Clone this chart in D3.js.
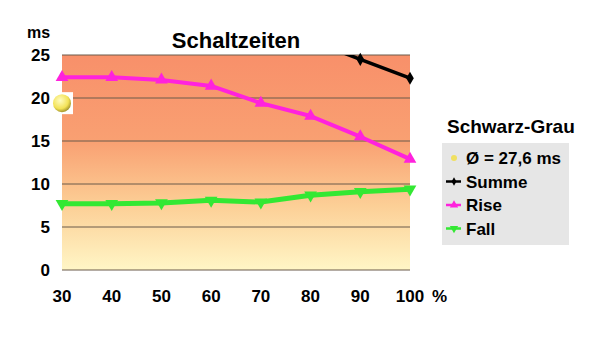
<!DOCTYPE html>
<html>
<head>
<meta charset="utf-8">
<script src="https://cdn.jsdelivr.net/npm/d3@7"></script>
<style>
body { margin: 0; background: #fff; }
text { font-family: "Liberation Sans", Arial, sans-serif; font-weight: bold; fill: #000; }
</style>
</head>
<body>
<svg id="chart" width="600" height="352"></svg>
<script>
var categories = [30, 40, 50, 60, 70, 80, 90, 100];
var yTicks = [0, 5, 10, 15, 20, 25];
var summe = [30.1, 30.1, 29.9, 29.5, 27.3, 26.7, 24.5, 22.3];
var rise = [22.4, 22.4, 22.1, 21.4, 19.4, 17.9, 15.5, 12.9];
var fall = [7.7, 7.7, 7.8, 8.1, 7.9, 8.7, 9.1, 9.4];
var avgPoint = {x: 30, y: 19.4};

var svg = d3.select("#chart");
var pLeft = 62, pRight = 410, pTop = 55, pBottom = 270;

var x = d3.scaleLinear().domain([30, 100]).range([pLeft, pRight]);
var y = d3.scaleLinear().domain([0, 25]).range([pBottom, pTop]);

// background gradient
var defs = svg.append("defs");
var grad = defs.append("linearGradient")
    .attr("id", "bg").attr("x1", 0).attr("y1", 0).attr("x2", 0).attr("y2", 1);
grad.append("stop").attr("offset", "0%").attr("stop-color", "#f8906a");
grad.append("stop").attr("offset", "40%").attr("stop-color", "#f9a072");
grad.append("stop").attr("offset", "70%").attr("stop-color", "#fccf96");
grad.append("stop").attr("offset", "100%").attr("stop-color", "#fff6c6");

defs.append("clipPath").attr("id", "plotclip")
    .append("rect").attr("x", pLeft).attr("y", pTop).attr("width", pRight - pLeft).attr("height", pBottom - pTop);

svg.append("rect")
    .attr("x", pLeft).attr("y", pTop)
    .attr("width", pRight - pLeft).attr("height", pBottom - pTop)
    .attr("fill", "url(#bg)");

// grid lines
svg.selectAll(".grid")
    .data(yTicks)
    .enter().append("line")
    .attr("class", "grid")
    .attr("x1", pLeft).attr("x2", pRight)
    .attr("y1", function(d) { return y(d); })
    .attr("y2", function(d) { return y(d); })
    .attr("stroke", "#6b5a4a")
    .attr("stroke-width", 1);

// y labels
svg.selectAll(".ylab")
    .data(yTicks)
    .enter().append("text")
    .attr("class", "ylab")
    .attr("x", 50)
    .attr("y", function(d) { return y(d) + 6; })
    .attr("text-anchor", "end")
    .attr("font-size", "17px")
    .text(function(d) { return d; });

svg.append("text").attr("x", 27).attr("y", 38).attr("font-size", "16px").text("ms");

// x labels
svg.selectAll(".xlab")
    .data(categories)
    .enter().append("text")
    .attr("class", "xlab")
    .attr("x", function(d) { return x(d); })
    .attr("y", 302)
    .attr("text-anchor", "middle")
    .attr("font-size", "17px")
    .text(function(d) { return d; });
svg.append("text").attr("x", 432).attr("y", 302).attr("font-size", "17px").text("%");

svg.append("text").attr("x", 236).attr("y", 48)
    .attr("text-anchor", "middle").attr("font-size", "22px").text("Schaltzeiten");

var line = d3.line()
    .x(function(d, i) { return x(categories[i]); })
    .y(function(d) { return y(d); });

var plot = svg.append("g").attr("clip-path", "url(#plotclip)");

var triSym = d3.symbol().type(d3.symbolTriangle).size(70);
var diamond = d3.symbol().type(d3.symbolDiamond).size(50);

function drawSeries(data, color, width, sym, rot) {
    plot.append("path")
        .datum(data)
        .attr("d", line)
        .attr("fill", "none")
        .attr("stroke", color)
        .attr("stroke-width", width)
        .attr("stroke-linejoin", "round");
    var pts = data.map(function(d, i) { return {cat: categories[i], v: d}; })
        .filter(function(p) { return p.v <= 25; });
    svg.selectAll(null)
        .data(pts)
        .enter().append("path")
        .attr("d", sym)
        .attr("transform", function(p) {
            return "translate(" + x(p.cat) + "," + y(p.v) + ") rotate(" + rot + ")";
        })
        .attr("fill", color);
}

drawSeries(fall, "#33e833", 5, triSym, 180);
drawSeries(rise, "#ff22dd", 4, triSym, 0);
drawSeries(summe, "#000000", 3.5, diamond, 0);

// average marker
svg.append("rect")
    .attr("x", x(avgPoint.x) - 7).attr("y", y(avgPoint.y) - 11)
    .attr("width", 18).attr("height", 22).attr("fill", "#fff");
var sg = defs.append("radialGradient").attr("id", "ball").attr("cx", "40%").attr("cy", "35%").attr("r", "65%");
sg.append("stop").attr("offset", "0%").attr("stop-color", "#fffcc0");
sg.append("stop").attr("offset", "70%").attr("stop-color", "#f3e256");
sg.append("stop").attr("offset", "100%").attr("stop-color", "#a89a30");
svg.append("circle")
    .attr("cx", x(avgPoint.x)).attr("cy", y(avgPoint.y))
    .attr("r", 9).attr("fill", "url(#ball)");

// legend
svg.append("text").attr("x", 447).attr("y", 133).attr("font-size", "19px").text("Schwarz-Grau");
svg.append("rect").attr("x", 442).attr("y", 143).attr("width", 127).attr("height", 102).attr("fill", "#e6e6e6");

var legendItems = [
    {label: "Ø = 27,6 ms", color: "#f0e060", type: "dot"},
    {label: "Summe", color: "#000", type: "diamond"},
    {label: "Rise", color: "#ff22dd", type: "up"},
    {label: "Fall", color: "#33e833", type: "down"}
];
legendItems.forEach(function(it, i) {
    var cy = 158 + i * 23.5;
    if (it.type === "dot") {
        svg.append("circle").attr("cx", 454).attr("cy", cy).attr("r", 3).attr("fill", it.color);
    } else {
        svg.append("line").attr("x1", 446).attr("x2", 461).attr("y1", cy).attr("y2", cy)
            .attr("stroke", it.color).attr("stroke-width", 2.5);
        var s = it.type === "diamond" ? d3.symbol().type(d3.symbolDiamond).size(20) : d3.symbol().type(d3.symbolTriangle).size(30);
        svg.append("path").attr("d", s)
            .attr("transform", "translate(454," + cy + ") rotate(" + (it.type === "down" ? 180 : 0) + ")")
            .attr("fill", it.color);
    }
    svg.append("text").attr("x", 466).attr("y", cy + 6).attr("font-size", "17px").text(it.label);
});
</script>
</body>
</html>
